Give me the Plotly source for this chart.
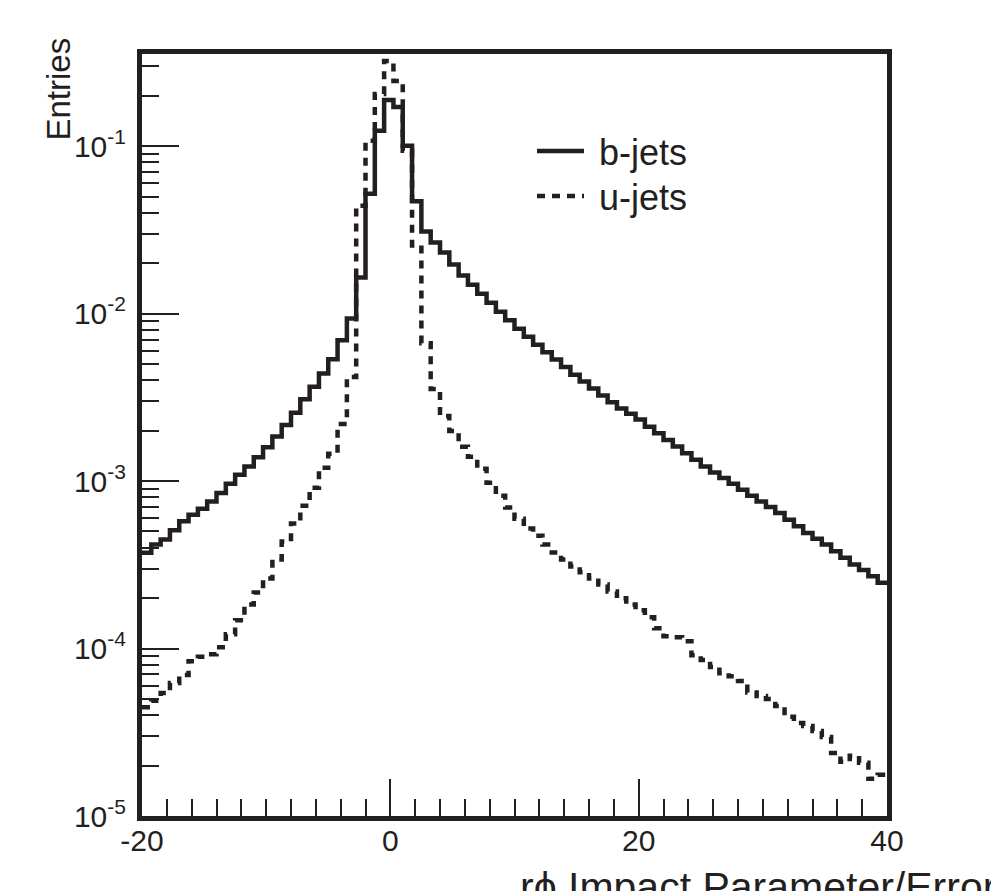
import numpy as np
import plotly.graph_objects as go

# ---------------- data ----------------
BIN_LO, BIN_HI, N_BINS = -20.0, 40.0, 80

b_jets = [
    3.73e-4, 4.18e-4, 4.47e-4, 5.08e-4, 5.75e-4, 6.30e-4, 6.84e-4, 7.56e-4, 8.48e-4, 9.64e-4,
    1.090e-3, 1.221e-3, 1.389e-3, 1.594e-3, 1.843e-3, 2.163e-3, 2.561e-3, 3.076e-3, 3.657e-3, 4.394e-3,
    5.346e-3, 6.936e-3, 9.34e-3, 1.645e-2, 5.20e-2, 0.1234, 0.1887, 0.1714, 0.1004, 0.0468,
    0.0309, 0.0266, 0.02317, 0.01966, 0.01690, 0.01484, 0.01312, 0.01160, 0.01025, 9.12e-3,
    8.12e-3, 7.27e-3, 6.52e-3, 5.88e-3, 5.31e-3, 4.79e-3, 4.32e-3, 3.93e-3, 3.57e-3, 3.24e-3,
    2.96e-3, 2.71e-3, 2.52e-3, 2.33e-3, 2.11e-3, 1.93e-3, 1.761e-3, 1.607e-3, 1.468e-3, 1.339e-3,
    1.221e-3, 1.125e-3, 1.042e-3, 9.64e-4, 8.88e-4, 8.18e-4, 7.56e-4, 7.00e-4, 6.45e-4, 5.88e-4,
    5.37e-4, 4.90e-4, 4.52e-4, 4.18e-4, 3.81e-4, 3.48e-4, 3.18e-4, 2.94e-4, 2.70e-4, 2.47e-4,
]

u_jets = [
    4.46e-5, 4.88e-5, 5.42e-5, 6.22e-5, 6.94e-5, 8.40e-5, 8.94e-5, 9.25e-5, 1.018e-4, 1.216e-4,
    1.474e-4, 1.835e-4, 2.163e-4, 2.621e-4, 3.40e-4, 4.35e-4, 5.57e-4, 7.13e-4, 9.12e-4, 1.200e-3,
    1.454e-3, 2.194e-3, 4.18e-3, 0.0441, 0.1075, 0.2048, 0.3219, 0.2447, 0.0938, 0.0255,
    6.65e-3, 3.54e-3, 2.45e-3, 1.993e-3, 1.60e-3, 1.395e-3, 1.184e-3, 9.77e-4, 8.18e-4, 6.94e-4,
    5.96e-4, 5.20e-4, 4.72e-4, 4.18e-4, 3.74e-4, 3.40e-4, 3.09e-4, 2.85e-4, 2.62e-4, 2.41e-4,
    2.194e-4, 1.993e-4, 1.835e-4, 1.690e-4, 1.536e-4, 1.320e-4, 1.184e-4, 1.168e-4, 1.105e-4, 9.12e-5,
    8.55e-5, 7.77e-5, 7.13e-5, 6.84e-5, 6.39e-5, 5.47e-5, 5.20e-5, 4.99e-5, 4.53e-5, 3.92e-5,
    3.59e-5, 3.45e-5, 3.22e-5, 2.96e-5, 2.38e-5, 2.11e-5, 2.29e-5, 2.08e-5, 1.667e-5, 1.761e-5,
]

series_names = ["b-jets", "u-jets"]
x_tick_vals = [-20, 0, 20, 40]
x_tick_text = ["-20", "0", "20", "40"]
y_tick_vals = [1e-5, 1e-4, 1e-3, 1e-2, 1e-1]
y_tick_text = ["10<sup>-5</sup>", "10<sup>-4</sup>", "10<sup>-3</sup>",
               "10<sup>-2</sup>", "10<sup>-1</sup>"]
x_title = "r\u03d5 Impact Parameter/Error"
y_title = "Entries"

# ---------------- layout geometry ----------------
W, H = 991, 891
L, R, T, B = 142, 887, 54, 816
FONT = "Liberation Sans, Arial, sans-serif"
INK = "#231f20"

edges = np.linspace(BIN_LO, BIN_HI, N_BINS + 1)


def px2paper_x(px):
    return (px - L) / (R - L)


def px2paper_y(py):
    return (B - py) / (B - T)


def step_trace(vals, name, dash, legend):
    return go.Scatter(
        x=edges, y=list(vals) + [vals[-1]],
        mode="lines", line_shape="hv", name="\u00a0" + name, legend=legend,
        line=dict(color=INK, width=4.5, dash=dash),
    )


fig = go.Figure()
fig.add_trace(step_trace(b_jets, series_names[0], "solid", "legend"))
fig.add_trace(step_trace(u_jets, series_names[1], "8px,7px", "legend2"))

legend_common = dict(
    xanchor="left", yanchor="top", bgcolor="rgba(0,0,0,0)", borderwidth=0,
    font=dict(size=36, family=FONT, color=INK), itemwidth=47,
)

fig.update_layout(
    width=W, height=H,
    margin=dict(l=L, r=W - R, t=T, b=H - B, pad=0),
    paper_bgcolor="white", plot_bgcolor="white",
    font=dict(family=FONT, color=INK),
    showlegend=True,
    legend=dict(x=px2paper_x(532), y=px2paper_y(121), **legend_common),
    legend2=dict(x=px2paper_x(532), y=px2paper_y(166), **legend_common),
    xaxis=dict(
        range=[BIN_LO, BIN_HI], tickmode="array", tickvals=x_tick_vals, ticktext=x_tick_text,
        ticks="inside", ticklen=37, tickwidth=1.5, tickcolor=INK,
        showline=True, linewidth=5, linecolor=INK, mirror=True,
        showgrid=False, zeroline=False,
        tickfont=dict(size=30, family=FONT, color=INK),
        ticklabelstandoff=-6,
        minor=dict(ticks="inside", dtick=2, tick0=0, ticklen=17, tickwidth=1.5,
                   tickcolor=INK, showgrid=False),
    ),
    yaxis=dict(
        type="log", range=[-5, -0.45], tickmode="array", tickvals=y_tick_vals, ticktext=y_tick_text,
        ticks="inside", ticklen=37, tickwidth=1.5, tickcolor=INK,
        showline=True, linewidth=5, linecolor=INK, mirror=True,
        showgrid=False, zeroline=False,
        tickfont=dict(size=30, family=FONT, color=INK),
        ticklabelstandoff=5,
        minor=dict(ticks="inside", dtick="D1", ticklen=17, tickwidth=1.5,
                   tickcolor=INK, showgrid=False),
    ),
    annotations=[
        dict(text=y_title, textangle=-90, xref="paper", yref="paper",
             x=px2paper_x(58), y=px2paper_y(36), xanchor="center", yanchor="top",
             showarrow=False, font=dict(size=33, family=FONT, color=INK)),
        dict(text=x_title, xref="paper", yref="paper",
             x=px2paper_x(518), y=px2paper_y(862), xanchor="left", yanchor="top",
             showarrow=False, font=dict(size=41, family=FONT, color=INK)),
    ],
)

fig.write_html("out.html", config={"displayModeBar": False},
               post_script="document.body.style.margin='0px';")
